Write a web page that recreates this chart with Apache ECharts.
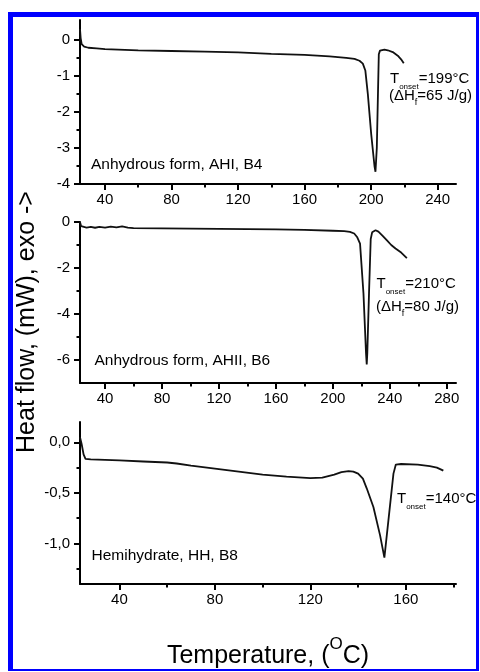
<!DOCTYPE html>
<html>
<head>
<meta charset="utf-8">
<script src="https://cdn.jsdelivr.net/npm/echarts@6/dist/echarts.min.js"></script>
<style>
html, body { margin: 0; padding: 0; background: #fff; }
#main { width: 480px; height: 672px; }
</style>
</head>
<body>
<div id="main"></div>
<script>
// DSC traces: [temperature °C, heat flow mW]
var ahiCurve = [[25,0.3],[25.4,0.05],[26,-0.12],[27.5,-0.19],[30,-0.22],[35,-0.24],[40,-0.26],[60,-0.29],
  [80,-0.31],[100,-0.33],[120,-0.35],[140,-0.39],[160,-0.42],[175,-0.46],[185,-0.5],[190,-0.53],[193,-0.58],
  [195,-0.66],[196.5,-0.85],[198,-1.5],[200,-2.6],[202,-3.5],[202.6,-3.66],[203.4,-3.0],[204,-1.7],[204.6,-0.4],
  [205.3,-0.3],[206.3,-0.27],[208,-0.27],[210,-0.29],[213,-0.34],[216,-0.44],[218,-0.54],[219.6,-0.65]];
var ahiiCurve = [[22.4,0],[23.2,-0.18],[24.5,-0.26],[27,-0.24],[30,-0.21],[33,-0.25],[36,-0.21],[40,-0.24],
  [44,-0.2],[48,-0.23],[52,-0.19],[56,-0.24],[60,-0.27],[80,-0.28],[100,-0.29],[120,-0.3],[140,-0.31],
  [160,-0.32],[180,-0.34],[200,-0.38],[208,-0.4],[212,-0.43],[215,-0.5],[217,-0.65],[219.1,-0.94],[221.5,-3.1],
  [223.3,-5.7],[223.8,-6.19],[224.2,-5.7],[225.4,-3.1],[226.6,-0.74],[227.6,-0.45],[229,-0.37],[230,-0.36],
  [232,-0.42],[235,-0.6],[238,-0.8],[241,-1.0],[244,-1.15],[248,-1.33],[252,-1.57]];
var hhCurve = [[23.5,0.05],[24.2,-0.02],[25,-0.12],[25.8,-0.165],[28,-0.17],[40,-0.18],[50,-0.19],[60,-0.2],
  [64,-0.21],[70,-0.23],[80,-0.26],[90,-0.29],[100,-0.32],[110,-0.34],[120,-0.355],[125,-0.35],[130,-0.32],
  [133,-0.295],[136,-0.285],[138,-0.29],[140,-0.31],[142,-0.36],[143.6,-0.455],[146.4,-0.64],[149.2,-0.92],
  [151,-1.14],[152.7,-0.77],[154.8,-0.31],[155.8,-0.22],[158,-0.215],[165,-0.22],[170,-0.235],[173,-0.25],[175.7,-0.28]];

var ahiXTicks = [40, 80, 120, 160, 200, 240];
var ahiXMinor = [60, 100, 140, 180, 220];
var ahiYTicks = [0, -1, -2, -3, -4];
var ahiYMinor = [-0.5, -1.5, -2.5, -3.5];
var ahiiXTicks = [40, 80, 120, 160, 200, 240, 280];
var ahiiXMinor = [60, 100, 140, 180, 220, 260];
var ahiiYTicks = [0, -2, -4, -6];
var ahiiYMinor = [-1, -3, -5];
var hhXTicks = [40, 80, 120, 160];
var hhXMinor = [60, 100, 140, 180];
var hhYTicks = [0, -0.5, -1.0];
var hhYMinor = [-0.25, -0.75, -1.25];

var FONT = '"Liberation Sans", Arial, sans-serif';
var chart = echarts.init(document.getElementById('main'));

function axisPair(kind, grid, min, max, ticks, minor, fmt) {
  var horiz = kind === 'x';
  var major = {
    type: 'value', gridIndex: grid, min: min, max: max,
    position: horiz ? 'bottom' : 'left',
    axisLine: { onZero: false, lineStyle: { color: '#000', width: 2 } },
    axisTick: { customValues: ticks, length: 6, lineStyle: { color: '#000', width: 2 } },
    axisLabel: { customValues: ticks, color: '#000', fontSize: 15, fontFamily: FONT,
      margin: horiz ? 8 : 10, formatter: fmt },
    splitLine: { show: false }
  };
  var small = {
    type: 'value', gridIndex: grid, min: min, max: max,
    position: horiz ? 'bottom' : 'left',
    axisLine: { show: false, onZero: false },
    axisTick: { customValues: minor, length: 3.5, lineStyle: { color: '#000', width: 2 } },
    axisLabel: { show: false },
    splitLine: { show: false }
  };
  return [major, small];
}

var commaFmt = function (v) { return v.toFixed(1).replace('.', ','); };

var xAxes = [].concat(
  axisPair('x', 0, 25, 251, ahiXTicks, ahiXMinor),
  axisPair('x', 1, 22.4, 286.5, ahiiXTicks, ahiiXMinor),
  axisPair('x', 2, 23.5, 181, hhXTicks, hhXMinor)
);
var yAxes = [].concat(
  axisPair('y', 0, -4, 0.55, ahiYTicks, ahiYMinor),
  axisPair('y', 1, -7, 0, ahiiYTicks, ahiiYMinor),
  axisPair('y', 2, -1.4, 0.2, hhYTicks, hhYMinor, commaFmt)
);

function curve(idx, data) {
  return {
    type: 'line', xAxisIndex: idx * 2, yAxisIndex: idx * 2, data: data,
    showSymbol: false, silent: true,
    lineStyle: { color: '#111', width: 1.8 }
  };
}

var tStyle = { fontSize: 15, lineHeight: 18, verticalAlign: 'top', fontFamily: FONT, color: '#000' };
var subStyle = { fontSize: 8, lineHeight: 8, verticalAlign: 'top', padding: [12, 0, 0, 0], fontFamily: FONT, color: '#000' };
var subF = { fontSize: 9, lineHeight: 9, verticalAlign: 'top', padding: [10, 0, 0, 0], fontFamily: FONT, color: '#000' };
function richText(x, y, text) {
  return { type: 'text', x: x, y: y, silent: true,
    style: { text: text, rich: { t: tStyle, s: subStyle, f: subF } } };
}
function plainText(x, y, text) {
  return { type: 'text', x: x, y: y, silent: true,
    style: { text: text, fontSize: 15.5, fontFamily: FONT, fill: '#000', verticalAlign: 'middle' } };
}
var blue = '#0000ff';

chart.setOption({
  animation: false,
  backgroundColor: '#fff',
  grid: [
    { left: 80, top: 20, width: 376, height: 164 },
    { left: 80, top: 222, width: 376, height: 161 },
    { left: 80, top: 422, width: 376, height: 162 }
  ],
  xAxis: xAxes,
  yAxis: yAxes,
  series: [curve(0, ahiCurve), curve(1, ahiiCurve), curve(2, hhCurve)],
  graphic: [
    { type: 'rect', shape: { x: 8, y: 12, width: 5, height: 659 }, style: { fill: blue }, silent: true },
    { type: 'rect', shape: { x: 8, y: 12, width: 471, height: 5 }, style: { fill: blue }, silent: true },
    { type: 'rect', shape: { x: 476, y: 12, width: 3, height: 659 }, style: { fill: blue }, silent: true },
    { type: 'rect', shape: { x: 8, y: 669, width: 471, height: 2 }, style: { fill: blue }, silent: true },
    plainText(91, 165, 'Anhydrous form, AHI, B4'),
    plainText(94.5, 360.5, 'Anhydrous form, AHII, B6'),
    plainText(91.5, 556, 'Hemihydrate, HH, B8'),
    richText(390, 71, '{t|T}{s|onset}{t|=199°C}'),
    richText(389, 88.5, '{t|(ΔH}{f|f}{t|=65 J/g)}'),
    richText(376.5, 276, '{t|T}{s|onset}{t|=210°C}'),
    richText(376, 299.5, '{t|(ΔH}{f|f}{t|=80 J/g)}'),
    richText(397, 491, '{t|T}{s|onset}{t|=140°C}'),
    { type: 'text', x: 27, y: 322, rotation: Math.PI / 2, silent: true,
      style: { text: 'Heat flow, (mW), exo ->', fontSize: 25, fontFamily: FONT, fill: '#000',
        align: 'center', verticalAlign: 'middle' } },
    { type: 'text', x: 268, y: 652.5, silent: true,
      style: { text: '{m|Temperature, (}{o|O}{m|C)}', align: 'center', verticalAlign: 'middle',
        rich: {
          m: { fontSize: 25, lineHeight: 33, verticalAlign: 'bottom', fontFamily: FONT, color: '#000' },
          o: { fontSize: 17, lineHeight: 16, verticalAlign: 'top', fontFamily: FONT, color: '#000' }
        } } }
  ]
});
</script>
</body>
</html>
